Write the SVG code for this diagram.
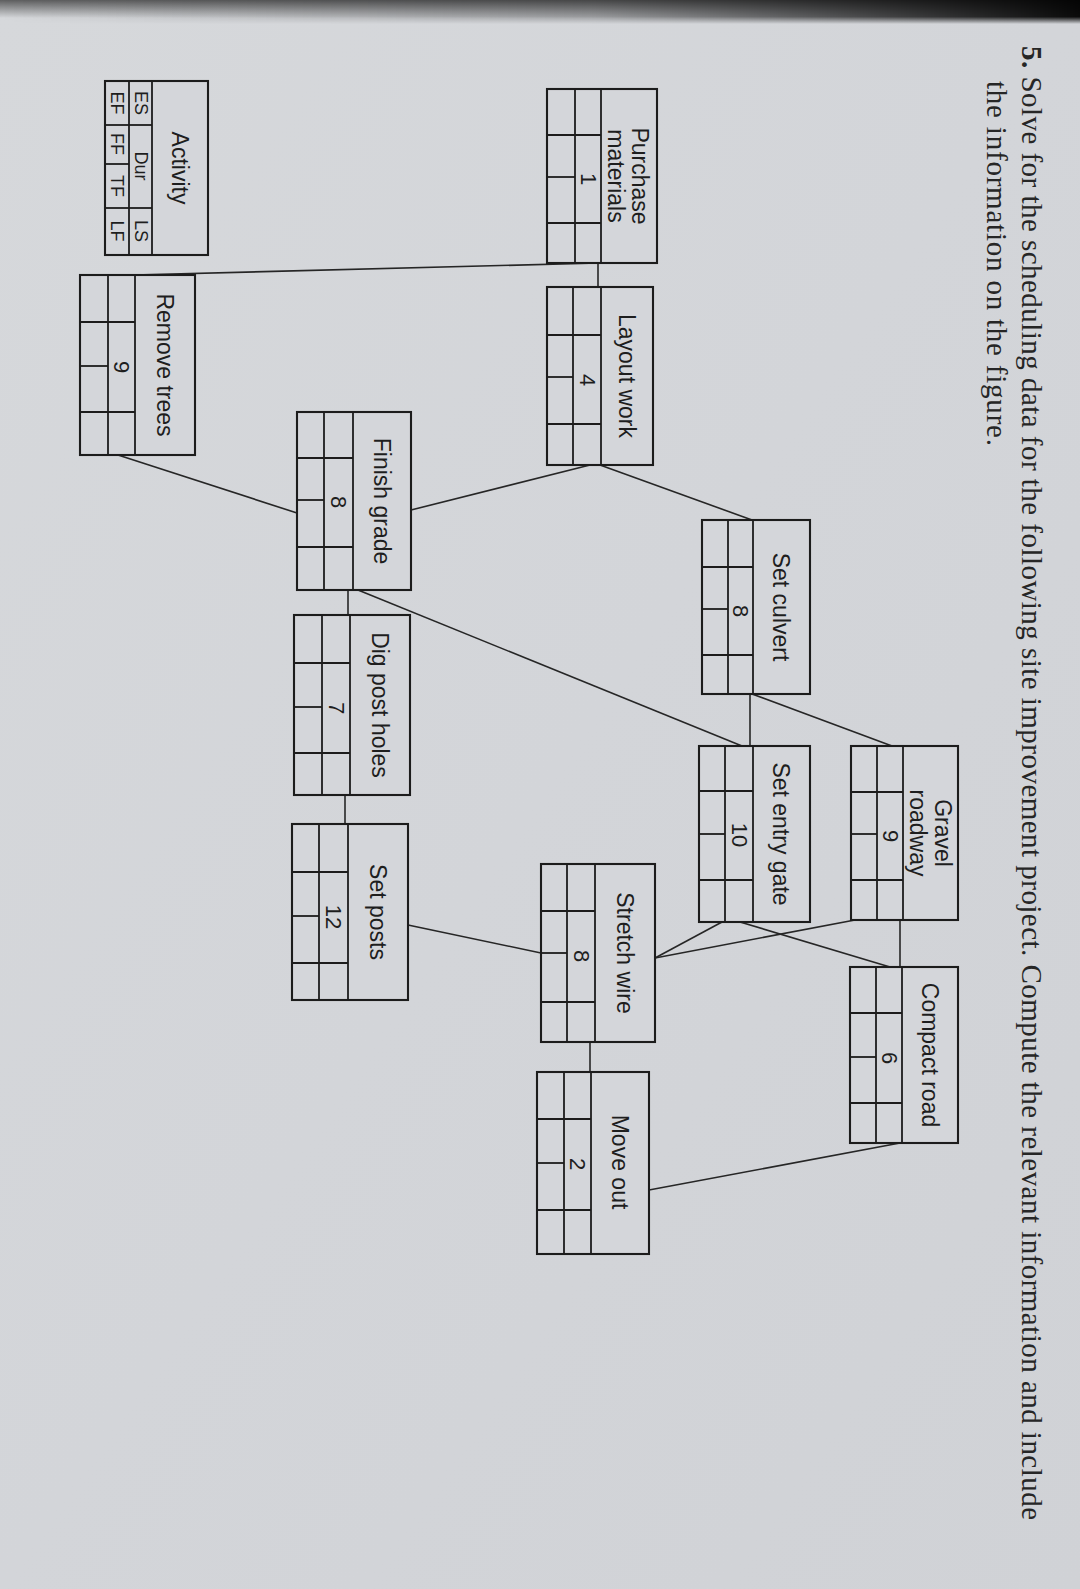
<svg xmlns="http://www.w3.org/2000/svg" width="1080" height="1589" viewBox="0 0 1080 1589">
<defs>
<linearGradient id="paper" x1="0" y1="0" x2="1" y2="1">
<stop offset="0" stop-color="#d6d8db"/>
<stop offset="0.5" stop-color="#d3d5d9"/>
<stop offset="1" stop-color="#d0d2d6"/>
</linearGradient>
<linearGradient id="topshade" x1="0" y1="0" x2="0" y2="1">
<stop offset="0" stop-color="#2a2a2a" stop-opacity="0.7"/>
<stop offset="1" stop-color="#2a2a2a" stop-opacity="0"/>
</linearGradient>
<linearGradient id="rightdark" x1="0" y1="0" x2="1" y2="0">
<stop offset="0" stop-color="#000" stop-opacity="0"/>
<stop offset="0.55" stop-color="#000" stop-opacity="0.25"/>
<stop offset="1" stop-color="#000" stop-opacity="0.95"/>
</linearGradient>
<linearGradient id="rightfade" x1="0" y1="0" x2="0" y2="1">
<stop offset="0" stop-color="#fff"/>
<stop offset="0.7" stop-color="#fff"/>
<stop offset="1" stop-color="#000"/>
</linearGradient>
<mask id="fadeMask"><rect x="0" y="0" width="1080" height="24" fill="url(#rightfade)"/></mask>
<style>
.box{fill:#d4d6da;stroke:#1c1c1c;stroke-width:2.1}
.ln{fill:none;stroke:#1c1c1c;stroke-width:1.8}
.cn{fill:none;stroke:#262626;stroke-width:1.6}
.nm{font-family:"Liberation Sans",Arial,sans-serif;font-size:23px;fill:#1e1e1e;text-anchor:middle;dominant-baseline:central}
.du{font-family:"Liberation Sans",Arial,sans-serif;font-size:22px;fill:#1e1e1e;text-anchor:middle;dominant-baseline:central}
.lg{font-family:"Liberation Sans",Arial,sans-serif;font-size:18px;fill:#1e1e1e;text-anchor:middle;dominant-baseline:central}
.q{font-family:"Liberation Serif","Times New Roman",serif;font-size:29px;fill:#262626;dominant-baseline:central}
</style>
</defs>
<rect x="0" y="0" width="1080" height="1589" fill="url(#paper)"/>
<rect x="0" y="0" width="1080" height="18" fill="url(#topshade)"/>
<rect x="0" y="0" width="1080" height="24" fill="url(#rightdark)" mask="url(#fadeMask)"/>

<g id="question">
<text class="q" transform="translate(1032,0) rotate(90)" x="46" y="0" textLength="1474" lengthAdjust="spacing"><tspan font-weight="bold">5.</tspan> Solve for the scheduling data for the following site improvement project. Compute the relevant information and include</text>
<text class="q" transform="translate(997,0) rotate(90)" x="81" y="0" textLength="365" lengthAdjust="spacing">the information on the figure.</text>
</g>

<g id="connectors">
<line class="cn" x1="598" y1="263" x2="598" y2="287"/>
<line class="cn" x1="598" y1="263" x2="134" y2="275"/>
<line class="cn" x1="590" y1="465" x2="411" y2="510"/>
<line class="cn" x1="600" y1="465" x2="752" y2="520"/>
<line class="cn" x1="118" y1="455" x2="297" y2="513"/>
<line class="cn" x1="348" y1="590" x2="348" y2="615"/>
<line class="cn" x1="358" y1="590" x2="742" y2="746"/>
<line class="cn" x1="752" y1="694" x2="892" y2="746"/>
<line class="cn" x1="750" y1="694" x2="750" y2="746"/>
<line class="cn" x1="900" y1="920" x2="900" y2="967"/>
<line class="cn" x1="740" y1="922" x2="890" y2="967"/>
<line class="cn" x1="855" y1="920" x2="655" y2="958"/>
<line class="cn" x1="722" y1="922" x2="655" y2="958"/>
<line class="cn" x1="345" y1="795" x2="345" y2="824"/>
<line class="cn" x1="408" y1="925" x2="541" y2="953"/>
<line class="cn" x1="590" y1="1042" x2="590" y2="1072"/>
<line class="cn" x1="900" y1="1143" x2="649" y2="1190"/>
</g>

<g id="legend">
<rect class="box" x="105" y="81" width="103" height="174"/>
<line class="ln" x1="152" y1="81" x2="152" y2="255"/>
<line class="ln" x1="129" y1="81" x2="129" y2="255"/>
<line class="ln" x1="129" y1="125" x2="152" y2="125"/>
<line class="ln" x1="129" y1="208" x2="152" y2="208"/>
<line class="ln" x1="105" y1="125" x2="129" y2="125"/>
<line class="ln" x1="105" y1="164" x2="129" y2="164"/>
<line class="ln" x1="105" y1="208" x2="129" y2="208"/>
<text class="nm" transform="translate(180,168) rotate(90)">Activity</text>
<text class="lg" transform="translate(141,103) rotate(90)">ES</text>
<text class="lg" transform="translate(141,166) rotate(90)">Dur</text>
<text class="lg" transform="translate(141,231) rotate(90)">LS</text>
<text class="lg" transform="translate(117,103) rotate(90)">EF</text>
<text class="lg" transform="translate(117,144) rotate(90)">FF</text>
<text class="lg" transform="translate(117,186) rotate(90)">TF</text>
<text class="lg" transform="translate(117,231) rotate(90)">LF</text>
</g>

<g id="purchase-materials">
<rect class="box" x="547" y="89" width="110" height="174"/>
<line class="ln" x1="601" y1="89" x2="601" y2="263"/>
<line class="ln" x1="575" y1="89" x2="575" y2="263"/>
<line class="ln" x1="547" y1="135" x2="601" y2="135"/>
<line class="ln" x1="547" y1="223" x2="601" y2="223"/>
<line class="ln" x1="547" y1="177" x2="575" y2="177"/>
<text class="nm" transform="translate(640,176) rotate(90)">Purchase</text>
<text class="nm" transform="translate(616,176) rotate(90)">materials</text>
<text class="du" transform="translate(588,179) rotate(90)">1</text>
</g>

<g id="layout-work">
<rect class="box" x="547" y="287" width="106" height="178"/>
<line class="ln" x1="601" y1="287" x2="601" y2="465"/>
<line class="ln" x1="573" y1="287" x2="573" y2="465"/>
<line class="ln" x1="547" y1="335" x2="601" y2="335"/>
<line class="ln" x1="547" y1="424" x2="601" y2="424"/>
<line class="ln" x1="547" y1="377" x2="573" y2="377"/>
<text class="nm" transform="translate(627,376) rotate(90)">Layout work</text>
<text class="du" transform="translate(587,380) rotate(90)">4</text>
</g>

<g id="remove-trees">
<rect class="box" x="80" y="275" width="115" height="180"/>
<line class="ln" x1="135" y1="275" x2="135" y2="455"/>
<line class="ln" x1="108" y1="275" x2="108" y2="455"/>
<line class="ln" x1="80" y1="322" x2="135" y2="322"/>
<line class="ln" x1="80" y1="412" x2="135" y2="412"/>
<line class="ln" x1="80" y1="366" x2="108" y2="366"/>
<text class="nm" transform="translate(165,365) rotate(90)">Remove trees</text>
<text class="du" transform="translate(121,367) rotate(90)">9</text>
</g>

<g id="finish-grade">
<rect class="box" x="297" y="412" width="114" height="178"/>
<line class="ln" x1="353" y1="412" x2="353" y2="590"/>
<line class="ln" x1="324" y1="412" x2="324" y2="590"/>
<line class="ln" x1="297" y1="458" x2="353" y2="458"/>
<line class="ln" x1="297" y1="547" x2="353" y2="547"/>
<line class="ln" x1="297" y1="500" x2="324" y2="500"/>
<text class="nm" transform="translate(382,501) rotate(90)">Finish grade</text>
<text class="du" transform="translate(338,502) rotate(90)">8</text>
</g>

<g id="set-culvert">
<rect class="box" x="702" y="520" width="108" height="174"/>
<line class="ln" x1="753" y1="520" x2="753" y2="694"/>
<line class="ln" x1="728" y1="520" x2="728" y2="694"/>
<line class="ln" x1="702" y1="567" x2="753" y2="567"/>
<line class="ln" x1="702" y1="655" x2="753" y2="655"/>
<line class="ln" x1="702" y1="609" x2="728" y2="609"/>
<text class="nm" transform="translate(781,607) rotate(90)">Set culvert</text>
<text class="du" transform="translate(740,611) rotate(90)">8</text>
</g>

<g id="dig-post-holes">
<rect class="box" x="294" y="615" width="116" height="180"/>
<line class="ln" x1="350" y1="615" x2="350" y2="795"/>
<line class="ln" x1="322" y1="615" x2="322" y2="795"/>
<line class="ln" x1="294" y1="663" x2="350" y2="663"/>
<line class="ln" x1="294" y1="753" x2="350" y2="753"/>
<line class="ln" x1="294" y1="707" x2="322" y2="707"/>
<text class="nm" transform="translate(380,705) rotate(90)">Dig post holes</text>
<text class="du" transform="translate(336,708) rotate(90)">7</text>
</g>

<g id="gravel-roadway">
<rect class="box" x="851" y="746" width="107" height="174"/>
<line class="ln" x1="903" y1="746" x2="903" y2="920"/>
<line class="ln" x1="877" y1="746" x2="877" y2="920"/>
<line class="ln" x1="851" y1="792" x2="903" y2="792"/>
<line class="ln" x1="851" y1="880" x2="903" y2="880"/>
<line class="ln" x1="851" y1="834" x2="877" y2="834"/>
<text class="nm" transform="translate(943,833) rotate(90)">Gravel</text>
<text class="nm" transform="translate(918,833) rotate(90)">roadway</text>
<text class="du" transform="translate(890,836) rotate(90)">9</text>
</g>

<g id="set-entry-gate">
<rect class="box" x="699" y="746" width="111" height="176"/>
<line class="ln" x1="753" y1="746" x2="753" y2="922"/>
<line class="ln" x1="725" y1="746" x2="725" y2="922"/>
<line class="ln" x1="699" y1="791" x2="753" y2="791"/>
<line class="ln" x1="699" y1="880" x2="753" y2="880"/>
<line class="ln" x1="699" y1="834" x2="725" y2="834"/>
<text class="nm" transform="translate(781,834) rotate(90)">Set entry gate</text>
<text class="du" transform="translate(739,835) rotate(90)">10</text>
</g>

<g id="set-posts">
<rect class="box" x="292" y="824" width="116" height="176"/>
<line class="ln" x1="348" y1="824" x2="348" y2="1000"/>
<line class="ln" x1="319" y1="824" x2="319" y2="1000"/>
<line class="ln" x1="292" y1="872" x2="348" y2="872"/>
<line class="ln" x1="292" y1="963" x2="348" y2="963"/>
<line class="ln" x1="292" y1="916" x2="319" y2="916"/>
<text class="nm" transform="translate(378,912) rotate(90)">Set posts</text>
<text class="du" transform="translate(333,917) rotate(90)">12</text>
</g>

<g id="stretch-wire">
<rect class="box" x="541" y="864" width="114" height="178"/>
<line class="ln" x1="595" y1="864" x2="595" y2="1042"/>
<line class="ln" x1="567" y1="864" x2="567" y2="1042"/>
<line class="ln" x1="541" y1="911" x2="595" y2="911"/>
<line class="ln" x1="541" y1="1002" x2="595" y2="1002"/>
<line class="ln" x1="541" y1="953" x2="567" y2="953"/>
<text class="nm" transform="translate(625,953) rotate(90)">Stretch wire</text>
<text class="du" transform="translate(581,956) rotate(90)">8</text>
</g>

<g id="compact-road">
<rect class="box" x="850" y="967" width="108" height="176"/>
<line class="ln" x1="902" y1="967" x2="902" y2="1143"/>
<line class="ln" x1="876" y1="967" x2="876" y2="1143"/>
<line class="ln" x1="850" y1="1013" x2="902" y2="1013"/>
<line class="ln" x1="850" y1="1103" x2="902" y2="1103"/>
<line class="ln" x1="850" y1="1057" x2="876" y2="1057"/>
<text class="nm" transform="translate(930,1055) rotate(90)">Compact road</text>
<text class="du" transform="translate(889,1058) rotate(90)">6</text>
</g>

<g id="move-out">
<rect class="box" x="537" y="1072" width="112" height="182"/>
<line class="ln" x1="591" y1="1072" x2="591" y2="1254"/>
<line class="ln" x1="564" y1="1072" x2="564" y2="1254"/>
<line class="ln" x1="537" y1="1119" x2="591" y2="1119"/>
<line class="ln" x1="537" y1="1210" x2="591" y2="1210"/>
<line class="ln" x1="537" y1="1163" x2="564" y2="1163"/>
<text class="nm" transform="translate(620,1162) rotate(90)">Move out</text>
<text class="du" transform="translate(577,1164) rotate(90)">2</text>
</g>
</svg>
